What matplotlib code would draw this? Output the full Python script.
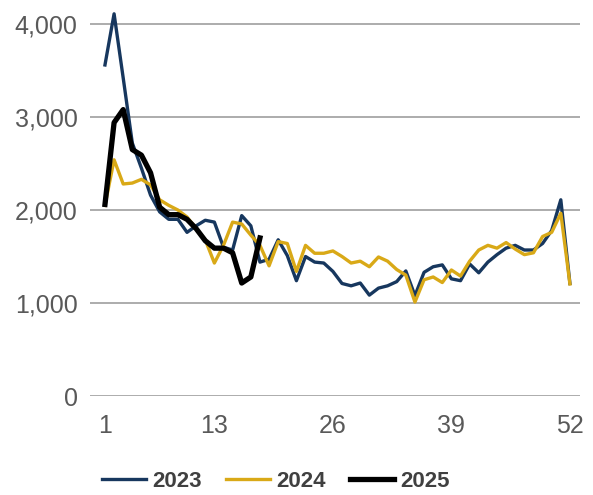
import matplotlib.pyplot as plt

plt.rcParams['font.family'] = ['Liberation Sans', 'DejaVu Sans']

# weekly values
weeks = list(range(1, 53))
y2023 = [3560, 4110, 3420, 2720, 2450, 2160, 1980, 1900, 1900, 1760,
         1830, 1890, 1870, 1600, 1570, 1940, 1830, 1440, 1470, 1680,
         1510, 1240, 1500, 1440, 1430, 1340, 1210, 1185, 1215, 1085,
         1160, 1185, 1230, 1345, 1080, 1330, 1390, 1410, 1260, 1240,
         1420, 1325, 1440, 1520, 1590, 1620, 1570, 1570, 1640, 1780,
         2110, 1210]
y2024 = [2050, 2540, 2280, 2290, 2330, 2270, 2110, 2050, 2000, 1925,
         1800, 1680, 1430, 1620, 1870, 1850, 1730, 1620, 1400, 1660,
         1640, 1340, 1620, 1535, 1535, 1560, 1500, 1430, 1450, 1390,
         1495, 1450, 1360, 1300, 1010, 1250, 1280, 1220, 1355, 1290,
         1450, 1570, 1620, 1590, 1650, 1580, 1520, 1540, 1715, 1760,
         1965, 1205]
weeks_2025 = list(range(1, 19))
y2025 = [2060, 2940, 3080, 2650, 2590, 2400, 2030, 1950, 1950, 1900,
         1800, 1670, 1590, 1590, 1540, 1215, 1280, 1700]

navy = '#17375e'
gold = '#d9a917'

fig = plt.figure(figsize=(5.93, 4.95), dpi=100)
ax = fig.add_axes([0.1518, 0.2, 0.8262, 0.789])

ax.plot(weeks, y2023, color=navy, lw=2.4, label='2023', solid_joinstyle='round')
ax.plot(weeks, y2024, color=gold, lw=2.4, label='2024', solid_joinstyle='round')
ax.plot(weeks_2025, y2025, color='black', lw=3.8, label='2025', solid_joinstyle='round')

ax.set_xlim(-0.64, 53.1)
ax.set_ylim(0, 4200)
ax.set_yticks([0, 1000, 2000, 3000, 4000])
ax.set_yticklabels(['0', '1,000', '2,000', '3,000', '4,000'])
ax.set_xticks([1, 13, 26, 39, 52])

ax.grid(axis='y', color='#a6a6a6', lw=1.3)
ax.set_axisbelow(True)
for s in ax.spines.values():
    s.set_visible(False)
ax.tick_params(axis='both', length=0, labelsize=18, colors='#595959')
ax.tick_params(axis='y', pad=9)
ax.tick_params(axis='x', pad=13)

leg = ax.legend(loc='center', bbox_to_anchor=(0.465, 0.028), bbox_transform=fig.transFigure,
                ncol=3, frameon=False, handlelength=2.0, handletextpad=0.25,
                columnspacing=1.1, prop={'size': 16, 'weight': 'bold'})
for t in leg.get_texts():
    t.set_color('#404040')

plt.savefig('out.png', dpi=100)
